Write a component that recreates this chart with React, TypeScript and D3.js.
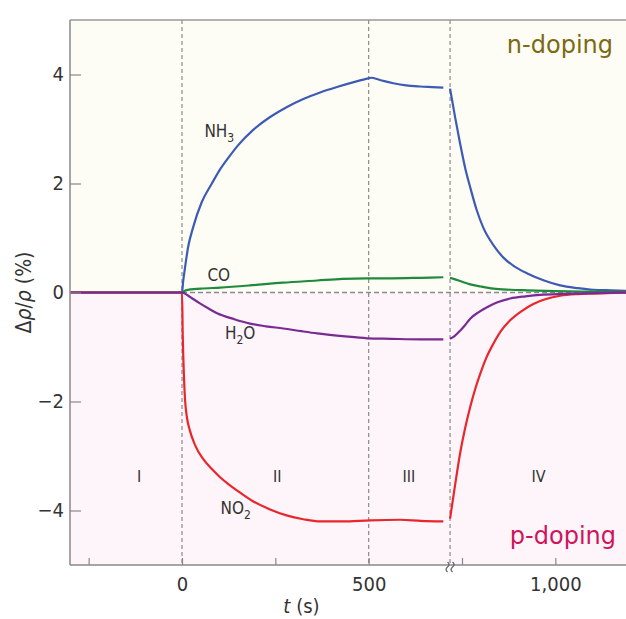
import { useEffect, useRef } from 'react'
import * as d3 from 'd3'

// time (s) / delta rho over rho (%)
const nh3A: [number, number][] = [
  [-300, 0], [0, 0], [3, 0.2], [8, 0.45], [16, 0.82], [30, 1.2], [53, 1.66], [80, 2.0],
  [102, 2.26], [125, 2.48], [150, 2.7], [190, 2.98], [236, 3.22], [280, 3.4], [325, 3.55],
  [370, 3.67], [415, 3.77], [460, 3.86], [499, 3.93], [506, 3.94], [530, 3.9], [566, 3.84],
  [600, 3.8], [638, 3.78], [670, 3.77], [700, 3.76],
]
const nh3B: [number, number][] = [
  [718, 3.74], [732, 3.2], [745, 2.73], [758, 2.3], [772, 1.93], [790, 1.5], [807, 1.19],
  [835, 0.86], [861, 0.64], [890, 0.48], [925, 0.35], [970, 0.22], [1013, 0.13], [1060, 0.08],
  [1102, 0.05], [1150, 0.04], [1200, 0.03],
]
const coA: [number, number][] = [
  [-300, 0], [0, 0], [10, 0.04], [50, 0.07], [102, 0.09], [182, 0.13], [270, 0.18], [362, 0.22],
  [430, 0.25], [496, 0.26], [560, 0.26], [640, 0.27], [700, 0.28],
]
const coB: [number, number][] = [
  [718, 0.27], [745, 0.21], [772, 0.15], [800, 0.11], [834, 0.07], [880, 0.05], [925, 0.04],
  [1000, 0.025], [1100, 0.015], [1200, 0.01],
]
const h2oA: [number, number][] = [
  [-300, 0], [0, 0], [15, -0.05], [30, -0.12], [48, -0.2], [70, -0.29], [94, -0.38], [140, -0.49],
  [182, -0.57], [225, -0.62], [271, -0.66], [320, -0.71], [362, -0.75], [430, -0.8], [496, -0.84],
  [560, -0.85], [640, -0.86], [700, -0.86],
]
const h2oB: [number, number][] = [
  [718, -0.85], [730, -0.8], [745, -0.7], [758, -0.6], [772, -0.48], [795, -0.36], [817, -0.27],
  [845, -0.18], [879, -0.11], [920, -0.07], [968, -0.04], [1050, -0.02], [1102, -0.01], [1200, 0],
]
const no2A: [number, number][] = [
  [-300, 0], [0, 0], [2, -0.8], [5, -1.5], [8, -1.95], [13, -2.28], [21, -2.53], [35, -2.8],
  [56, -3.05], [80, -3.24], [102, -3.39], [125, -3.52], [147, -3.63], [190, -3.83], [236, -3.98],
  [280, -4.09], [325, -4.16], [370, -4.2], [430, -4.2], [504, -4.18], [584, -4.17], [640, -4.19],
  [700, -4.2],
]
const no2B: [number, number][] = [
  [718, -4.15], [730, -3.6], [745, -2.95], [758, -2.5], [772, -2.1], [785, -1.78], [799, -1.49],
  [815, -1.2], [834, -0.94], [855, -0.7], [879, -0.51], [910, -0.34], [941, -0.21], [975, -0.12],
  [1013, -0.06], [1060, -0.03], [1102, -0.02], [1200, 0],
]

const xTicks = [-250, 0, 250, 500, 750, 1000]
const xLabelled = [0, 500, 1000]
const yTicks = [-4, -2, 0, 2, 4]
const phaseLines = [0, 500, 718]
const phases = [
  { name: 'I', t: -115 },
  { name: 'II', t: 255 },
  { name: 'III', t: 608 },
  { name: 'IV', t: 955 },
]
const breakAt = 718

const series = [
  { name: 'NH3', parts: [nh3A, nh3B], color: '#3d5bb4' },
  { name: 'CO', parts: [coA, coB], color: '#1f8a3c' },
  { name: 'NO2', parts: [no2A, no2B], color: '#e8262c' },
  { name: 'H2O', parts: [h2oA, h2oB], color: '#7a2b93' },
]

const W = 626
const H = 619
const left = 70
const top = 20
const bottom = 565
const right = 630

const font = "'Liberation Sans Narrow', 'DejaVu Sans Condensed', Roboto, sans-serif"

function App() {
  const xAxisRef = useRef<SVGGElement>(null)
  const yAxisRef = useRef<SVGGElement>(null)

  const x = d3.scaleLinear().domain([-300, 1200]).range([left, right])
  const y = d3.scaleLinear().domain([-5, 5]).range([bottom, top])

  const line = d3.line<[number, number]>()
    .x(d => x(d[0]))
    .y(d => y(d[1]))
    .curve(d3.curveMonotoneX)

  useEffect(() => {
    const fmt = d3.format(',')
    const gx = d3.select(xAxisRef.current!)
    gx.call(
      d3.axisBottom(x)
        .tickValues(xTicks)
        .tickSize(-7)
        .tickPadding(12)
        .tickFormat(d => (xLabelled.includes(+d) ? fmt(+d) : '')) as any
    )
    gx.select('.domain').remove()
    gx.selectAll('line').attr('stroke', '#888').attr('stroke-width', 1.2)
    gx.selectAll('text').attr('font-size', 20).attr('fill', '#333').style('font-family', font)

    const gy = d3.select(yAxisRef.current!)
    gy.call(d3.axisLeft(y).tickValues(yTicks).tickSize(-11).tickPadding(6) as any)
    gy.select('.domain').remove()
    gy.selectAll('line').attr('stroke', '#888').attr('stroke-width', 1.2)
    gy.selectAll('text').attr('font-size', 20).attr('fill', '#333').style('font-family', font)
  }, [])

  const bx = x(breakAt)

  return (
    <svg width={W} height={H} style={{ position: 'absolute', left: 0, top: 0, background: '#fff' }}>
      <rect x={left} y={top} width={right - left} height={y(0) - top} fill="#fefdf5" />
      <rect x={left} y={y(0)} width={right - left} height={bottom - y(0)} fill="#fdf5f9" />

      {phaseLines.map(t => (
        <line key={t} x1={x(t)} x2={x(t)} y1={top} y2={bottom} stroke="#8a8a8a" strokeWidth={1.2} strokeDasharray="4,3" />
      ))}
      <line x1={x(0)} x2={right} y1={y(0)} y2={y(0)} stroke="#8a8a8a" strokeWidth={1.4} strokeDasharray="5,3" />

      {phases.map(p => (
        <text key={p.name} x={x(p.t)} y={y(-3.4)} textAnchor="middle" dominantBaseline="middle"
          fontSize={16} fill="#333" style={{ fontFamily: font }}>{p.name}</text>
      ))}

      {series.map(s => s.parts.map((part, i) => (
        <path key={s.name + i} d={line(part) ?? ''} fill="none" stroke={s.color} strokeWidth={2.2} />
      )))}

      <g style={{ fontFamily: font }} fill="#333" fontSize={17}>
        <text x={x(60)} y={y(2.85)}>NH<tspan fontSize={12} dy={5}>3</tspan></text>
        <text x={x(68)} y={y(0.22)}>CO</text>
        <text x={x(115)} y={y(-0.85)}>H<tspan fontSize={12} dy={5}>2</tspan><tspan dy={-5}>O</tspan></text>
        <text x={x(103)} y={y(-4.07)}>NO<tspan fontSize={12} dy={5}>2</tspan></text>
      </g>

      <g ref={yAxisRef} transform={`translate(${left},0)`} />
      <g ref={xAxisRef} transform={`translate(0,${bottom})`} />

      <line x1={left} x2={right} y1={top} y2={top} stroke="#999" strokeWidth={1.5} />
      <line x1={left} x2={left} y1={top} y2={bottom} stroke="#888" strokeWidth={1.5} />
      <line x1={left} x2={right} y1={bottom} y2={bottom} stroke="#888" strokeWidth={1.5} />

      {[-2.5, 2.5].map(o => (
        <path key={o} d={`M${bx + o},${bottom - 3} q3,2.5 0,5 q-3,2.5 0,5`} fill="none" stroke="#666" strokeWidth={1.3} />
      ))}

      <text x={613} y={53} textAnchor="end" fontSize={24} fill="#7a6a12" style={{ fontFamily: "'DejaVu Sans', Verdana, sans-serif" }}>n-doping</text>
      <text x={616} y={544} textAnchor="end" fontSize={24} fill="#d0135c" style={{ fontFamily: "'DejaVu Sans', Verdana, sans-serif" }}>p-doping</text>

      <text transform={`translate(31,${y(0)}) rotate(-90)`} textAnchor="middle" fontSize={21} fill="#333" style={{ fontFamily: font }}>
        Δ<tspan fontStyle="italic">ρ</tspan>/<tspan fontStyle="italic">ρ</tspan> (%)
      </text>
      <text x={x(320)} y={613} textAnchor="middle" fontSize={20} fill="#333" style={{ fontFamily: font }}>
        <tspan fontStyle="italic">t</tspan> (s)
      </text>
    </svg>
  )
}

export default App
